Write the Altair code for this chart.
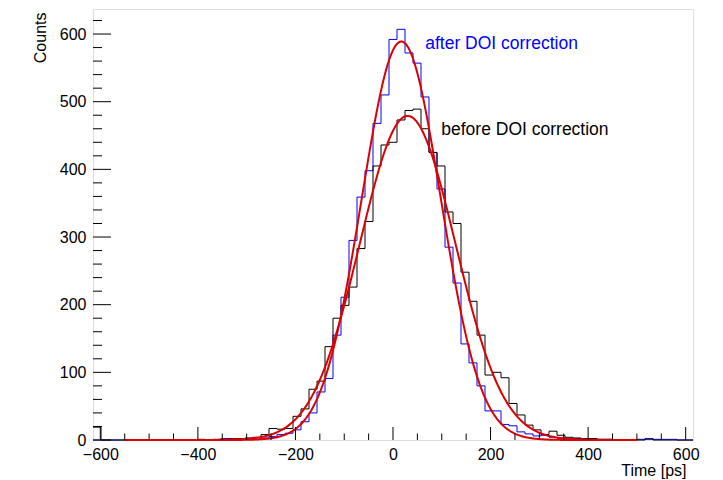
import altair as alt
import numpy as np
import pandas as pd

# ---------------- data ----------------
hist_low = -615.0
bin_width = 16.4
n_bins = 75

# counts per bin, k = -37 ... +37 (bin k=0 is centred on 0 ps)
before_counts = [
    19, 0, 0, 0, 0, 0, 0, 0, 0, 0, 0, 0, 0,          # k=-37..-25
    1, 0, 1, 1, 2, 2, 3, 4, 8, 17, 16, 17, 35, 46,    # k=-24..-11
    75, 87, 138, 180, 199, 226, 283, 323, 405, 436,   # k=-10..-1
    440, 473, 487, 489, 460, 425, 405, 337, 320, 248, # k=0..9
    205, 155, 96, 100, 92, 54, 37, 22, 15, 8,         # k=10..19
    13, 7, 4, 3, 2, 2, 1, 1, 0, 0, 0, 0, 2, 0, 0, 0, 0, 0,  # k=20..37
]
after_counts = [
    0, 0, 0, 0, 0, 0, 0, 0, 0, 0, 0, 0, 0,            # k=-37..-25
    0, 0, 0, 2, 1, 1, 2, 3, 3, 5, 8, 10, 15, 27,      # k=-24..-11
    40, 71, 91, 155, 211, 295, 359, 398, 468, 510,    # k=-10..-1
    592, 607, 572, 557, 507, 425, 371, 285, 232, 142, # k=0..9
    114, 80, 43, 43, 23, 21, 12, 9, 6, 7,             # k=10..19
    4, 3, 2, 2, 1, 2, 1, 1, 0, 0, 0, 1, 1, 1, 1, 1, 0, 0,   # k=20..37
]

# Gaussian fit results (constant, mean, sigma) and fit range
fit_names = ["after", "before"]
fit_const = [589.0, 479.0]
fit_mean = [17.0, 30.0]
fit_sigma = [81.0, 98.0]
fit_range = [-550.0, 500.0]

x_major = [-600, -400, -200, 0, 200, 400, 600]
x_minor = [v for v in range(-600, 601, 50) if v % 200 != 0]
y_major = [0, 100, 200, 300, 400, 500, 600]
y_minor = [v for v in range(0, 621, 20) if v % 100 != 0]

x_domain = [-615, 615]
y_domain = [0, 637]

W, H = 600, 431
FONT = "Liberation Sans"


def step_frame(counts):
    edges = [hist_low + bin_width * i for i in range(n_bins + 1)]
    vals = list(counts) + [counts[-1]]
    return pd.DataFrame({"x": edges, "y": vals})


xs = alt.Scale(domain=x_domain, nice=False, zero=False)
ys = alt.Scale(domain=y_domain, nice=False, zero=False)

x_axis = alt.Axis(
    values=x_major, tickSize=0, labelPadding=6, grid=False, domain=False,
    title="Time [ps]", titleAnchor="end", titleAlign="right",
    titleX=593, titleY=30, titleBaseline="middle",
    labelFontSize=16, titleFontSize=16, labelFont=FONT, titleFont=FONT,
    titleFontWeight="normal", labelColor="black", titleColor="black",
)
y_axis = alt.Axis(
    values=y_major, tickSize=0, labelPadding=7, grid=False, domain=False,
    title="Counts", titleAngle=270, titleAlign="right", titleBaseline="middle",
    titleX=-53, titleY=3,
    labelFontSize=16, titleFontSize=16, labelFont=FONT, titleFont=FONT,
    titleFontWeight="normal", labelColor="black", titleColor="black",
)

after_hist = alt.Chart(step_frame(after_counts)).mark_line(
    interpolate="step-after", color="#0000ff", strokeWidth=1
).encode(x=alt.X("x:Q", scale=xs, axis=x_axis), y=alt.Y("y:Q", scale=ys, axis=y_axis))

before_hist = alt.Chart(step_frame(before_counts)).mark_line(
    interpolate="step-after", color="#000000", strokeWidth=1
).encode(x=alt.X("x:Q", scale=xs), y=alt.Y("y:Q", scale=ys))

fit_rows = []
grid = np.arange(fit_range[0], fit_range[1] + 0.5, 2.0)
for name, c, m, s in zip(fit_names, fit_const, fit_mean, fit_sigma):
    for t in grid:
        fit_rows.append({"fit": name, "x": float(t), "y": float(c * np.exp(-0.5 * ((t - m) / s) ** 2))})
fits = alt.Chart(pd.DataFrame(fit_rows)).mark_line(
    color="#dd0000", strokeWidth=2
).encode(x=alt.X("x:Q", scale=xs), y=alt.Y("y:Q", scale=ys), detail="fit:N")

# inward ticks (ROOT style)
xmaj = alt.Chart(pd.DataFrame({"v": x_major})).mark_rule(color="black", strokeWidth=1).encode(
    x=alt.X("v:Q", scale=xs), y=alt.value(H), y2=alt.value(H - 13))
xmin = alt.Chart(pd.DataFrame({"v": x_minor})).mark_rule(color="black", strokeWidth=1).encode(
    x=alt.X("v:Q", scale=xs), y=alt.value(H), y2=alt.value(H - 6.5))
ymaj = alt.Chart(pd.DataFrame({"v": y_major})).mark_rule(color="black", strokeWidth=1).encode(
    y=alt.Y("v:Q", scale=ys), x=alt.value(0), x2=alt.value(18))
ymin = alt.Chart(pd.DataFrame({"v": y_minor})).mark_rule(color="black", strokeWidth=1).encode(
    y=alt.Y("v:Q", scale=ys), x=alt.value(0), x2=alt.value(9))

labels = pd.DataFrame({
    "x": [66.0, 99.0],
    "y": [585.0, 458.0],
    "t": ["after DOI correction", "before DOI correction"],
    "c": ["#0000ff", "#000000"],
})
texts = alt.Chart(labels).mark_text(
    align="left", baseline="middle", fontSize=17.5, font=FONT
).encode(
    x=alt.X("x:Q", scale=xs), y=alt.Y("y:Q", scale=ys), text="t:N",
    color=alt.Color("c:N", scale=None),
)

chart = alt.layer(after_hist, before_hist, fits, xmaj, xmin, ymaj, ymin, texts).properties(
    width=W, height=H,
    autosize=alt.AutoSizeParams(type="none"),
    padding={"left": 85, "top": 1, "right": 22, "bottom": 39},
).configure_view(stroke="black", strokeWidth=1).configure(background="white")

chart.save("out.html", embed_options={"renderer": "svg", "actions": False})
